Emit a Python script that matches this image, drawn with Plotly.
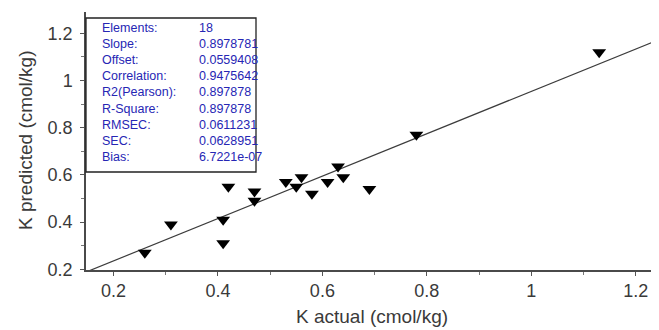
import plotly.graph_objects as go

# ---- data ----
k_actual = [0.26, 0.31, 0.41, 0.41, 0.42, 0.47, 0.47, 0.53, 0.55, 0.56,
            0.58, 0.61, 0.63, 0.64, 0.69, 0.78, 1.13]
k_predicted = [0.27, 0.39, 0.41, 0.31, 0.55, 0.53, 0.49, 0.57, 0.55, 0.59,
               0.52, 0.57, 0.635, 0.59, 0.54, 0.77, 1.12]

stat_labels = ["Elements:", "Slope:", "Offset:", "Correlation:", "R2(Pearson):",
               "R-Square:", "RMSEC:", "SEC:", "Bias:"]
stat_values = ["18", "0.8978781", "0.0559408", "0.9475642", "0.897878",
               "0.897878", "0.0611231", "0.0628951", "6.7221e-07"]

slope = 0.8978781
offset = 0.0559408

x_ticks = [0.2, 0.4, 0.6, 0.8, 1.0, 1.2]
x_tick_text = ["0.2", "0.4", "0.6", "0.8", "1", "1.2"]
y_ticks = [0.2, 0.4, 0.6, 0.8, 1.0, 1.2]
y_tick_text = ["0.2", "0.4", "0.6", "0.8", "1", "1.2"]

x_title = "K actual (cmol/kg)"
y_title = "K predicted (cmol/kg)"

# ---- layout constants ----
X_RANGE = [0.1474, 1.2407]
Y_RANGE = [0.197, 1.29]
FONT = "Liberation Sans, Arial, sans-serif"
TXT = "#3a3a3a"
BLUE = "#2626b4"
OFF = 8  # default page body margin
W, H = 659, 330
# target plot area in page pixels: x 86..657, y 12..270
L, T = 86 - OFF, 12 - OFF
R = W - (657 - OFF)
B = H - (270 - OFF)
plot_w = W - L - R
plot_h = H - T - B

def px(xp):  # page pixel -> paper x
    return (xp - OFF - L) / plot_w

def py(yp):  # page pixel -> paper y
    return (H - B - (yp - OFF)) / plot_h

fig = go.Figure()

fig.add_trace(go.Scatter(
    x=X_RANGE, y=[slope * v + offset for v in X_RANGE],
    mode="lines", line=dict(color="#3c3c3c", width=1.2),
    hoverinfo="skip", showlegend=False))

fig.add_trace(go.Scatter(
    x=k_actual, y=k_predicted, mode="markers",
    marker=dict(symbol="triangle-down", size=12, color="black",
                line=dict(width=0)),
    showlegend=False))

axis_common = dict(
    showgrid=False, zeroline=False, showline=True, linecolor="#4a4a4a",
    linewidth=1.5, ticks="outside", ticklen=4, tickwidth=1, tickcolor="#555",
    tickfont=dict(family=FONT, size=18, color=TXT), automargin=False,
    minor=dict(ticks="outside", ticklen=3, tickcolor="#777", dtick=0.1, showgrid=False),
)

fig.update_xaxes(range=X_RANGE, tickvals=x_ticks, ticktext=x_tick_text, **axis_common)
fig.update_yaxes(range=Y_RANGE, tickvals=y_ticks, ticktext=y_tick_text,
                 ticklabelstandoff=4, **axis_common)

fig.add_annotation(x=px(372), y=py(316), xref="paper", yref="paper", text=x_title,
                   showarrow=False, xanchor="center", yanchor="middle",
                   font=dict(family=FONT, size=19, color=TXT))
fig.add_annotation(x=px(25), y=py(140), xref="paper", yref="paper", text=y_title,
                   showarrow=False, xanchor="center", yanchor="middle", textangle=-90,
                   font=dict(family=FONT, size=19, color=TXT))

# stats box
fig.add_shape(type="rect", xref="paper", yref="paper",
              x0=px(86), x1=px(256), y0=py(172), y1=py(18),
              line=dict(color="#222", width=1.3), fillcolor="white", layer="above")

for i, (lab, val) in enumerate(zip(stat_labels, stat_values)):
    yy = py(28 + i * 16.1)
    fig.add_annotation(x=px(100), y=yy, xref="paper", yref="paper", text=lab,
                       showarrow=False, xanchor="left", yanchor="middle",
                       font=dict(family=FONT, size=12.5, color=BLUE))
    fig.add_annotation(x=px(197), y=yy, xref="paper", yref="paper", text=val,
                       showarrow=False, xanchor="left", yanchor="middle",
                       font=dict(family=FONT, size=12.5, color=BLUE))

fig.update_layout(
    width=W, height=H,
    margin=dict(l=L, r=R, t=T, b=B),
    plot_bgcolor="white", paper_bgcolor="white",
)

fig.write_html("out.html")
